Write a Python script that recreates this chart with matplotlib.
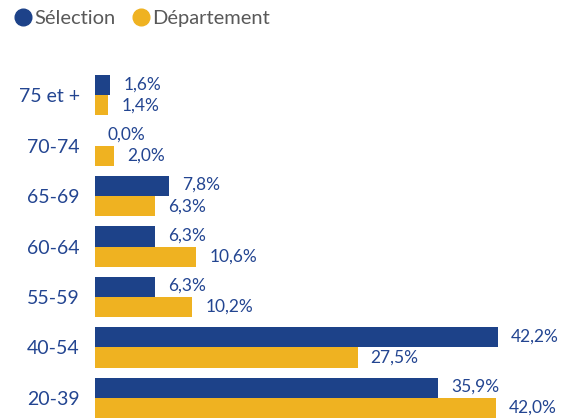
import matplotlib.pyplot as plt
from matplotlib.lines import Line2D
import numpy as np

plt.rcParams['font.family'] = ['Lato', 'DejaVu Sans']

# data
categories = ['75 et +', '70-74', '65-69', '60-64', '55-59', '40-54', '20-39']
selection = [1.6, 0.0, 7.8, 6.3, 6.3, 42.2, 35.9]
departement = [1.4, 2.0, 6.3, 10.6, 10.2, 27.5, 42.0]

blue = '#1d4289'
yellow = '#efb221'
txtblue = '#234591'

fig = plt.figure(figsize=(5.63, 4.18), dpi=100)
ax = fig.add_axes([95/563, 0, 468/563, 348/418])

y = np.arange(len(categories))
h = 0.4
ax.barh(y - h/2, selection, height=h, color=blue)
ax.barh(y + h/2, departement, height=h, color=yellow)

for yi, v in zip(y, selection):
    ax.annotate(f"{v:.1f}%".replace('.', ','), (v, yi - h/2), xytext=(13, 1),
                textcoords='offset pixels', va='center', ha='left',
                fontsize=12.5, color=txtblue)
for yi, v in zip(y, departement):
    ax.annotate(f"{v:.1f}%".replace('.', ','), (v, yi + h/2), xytext=(13, 0),
                textcoords='offset pixels', va='center', ha='left',
                fontsize=12.5, color=txtblue)

ax.set_xlim(0, 49)
ax.set_ylim(6.4, -0.5)
ax.set_yticks(y)
ax.set_yticklabels(categories, fontsize=14, color=txtblue)
ax.set_xticks([])
ax.tick_params(axis='y', length=0, pad=11)
for s in ax.spines.values():
    s.set_visible(False)

handles = [Line2D([], [], marker='o', linestyle='', markersize=12, color=blue),
           Line2D([], [], marker='o', linestyle='', markersize=12, color=yellow)]
leg = fig.legend(handles, ['Sélection', 'Département'], loc='upper left',
                 bbox_to_anchor=(-0.018, 1.02), ncol=2, frameon=False,
                 handletextpad=-0.2, columnspacing=0.5, fontsize=14.5,
                 handlelength=1.5)
for t in leg.get_texts():
    t.set_color('#595959')

fig.savefig('out.png', dpi=100)
